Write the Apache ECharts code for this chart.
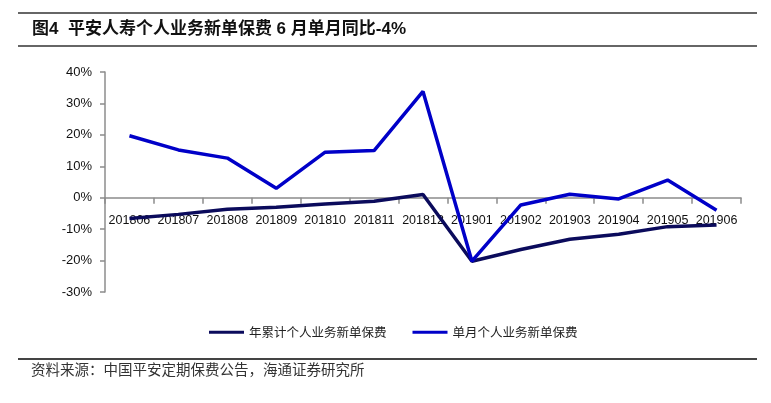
<!DOCTYPE html>
<html><head><meta charset="utf-8">
<script src="https://cdn.jsdelivr.net/npm/echarts@6/dist/echarts.min.js"></script>
<style>html,body{margin:0;padding:0;background:#fff}#c{width:771px;height:403px}</style>
</head><body><div id="c"></div>
<script>
var categories = ['201806','201807','201808','201809','201810','201811','201812','201901','201902','201903','201904','201905','201906'];
var cumulative = [-6.6, -5.3, -3.7, -3.0, -2.0, -1.1, 1.0, -20.2, -16.5, -13.2, -11.6, -9.2, -8.7];
var monthly = [19.7, 15.2, 12.6, 3.0, 14.5, 15.0, 33.8, -20.2, -2.3, 1.1, -0.4, 5.6, -4.0];
var seriesNames = ['年累计个人业务新单保费', '单月个人业务新单保费'];
var titleText = '图4  平安人寿个人业务新单保费 6 月单月同比-4%';
var sourceText = '资料来源：中国平安定期保费公告，海通证券研究所';
var yMin = -30, yMax = 40;

var gridTop = 72, gridBottom = 111, H = 403;
var plotH = H - gridTop - gridBottom;
var zeroOffset = -plotH * (0 - yMin) / (yMax - yMin);

var chart = echarts.init(document.getElementById('c'));
var cjk = '"Liberation Sans", "Noto Sans CJK SC", sans-serif';
chart.setOption({
  animation: false,
  backgroundColor: '#fff',
  textStyle: {fontFamily: cjk},
  grid: {left: 105, right: 30, top: gridTop, bottom: gridBottom, containLabel: false},
  legend: {
    left: 204, top: 321, itemWidth: 35, itemHeight: 3, itemGap: 26, icon: 'rect',
    textStyle: {fontSize: 12.5, color: '#222', fontFamily: '"Noto Sans CJK SC", sans-serif'},
    data: seriesNames
  },
  xAxis: {
    type: 'category', data: categories, offset: zeroOffset,
    axisLine: {onZero: false, lineStyle: {color: '#8c8c8c', width: 1.5}},
    axisTick: {show: true, inside: false, length: 6, lineStyle: {color: '#8c8c8c', width: 1.5}},
    axisLabel: {margin: 16, fontSize: 12.5, color: '#111', interval: 0, fontFamily: '"Liberation Sans", sans-serif'},
    z: 1
  },
  yAxis: {
    type: 'value', min: yMin, max: yMax, interval: 10,
    axisLine: {show: true, lineStyle: {color: '#8c8c8c', width: 1.5}},
    axisTick: {show: true, length: 5, lineStyle: {color: '#8c8c8c', width: 1.5}},
    splitLine: {show: false},
    axisLabel: {formatter: '{value}%', margin: 13, fontSize: 13, color: '#111', fontFamily: '"Liberation Sans", sans-serif'}
  },
  series: [
    {name: seriesNames[0], type: 'line', data: cumulative, symbol: 'none', z: 3,
     lineStyle: {color: '#0b0b5c', width: 3.5}, itemStyle: {color: '#0b0b5c'}},
    {name: seriesNames[1], type: 'line', data: monthly, symbol: 'none', z: 3,
     lineStyle: {color: '#0000c8', width: 3.5}, itemStyle: {color: '#0000c8'}}
  ],
  graphic: [
    {type: 'line', shape: {x1: 18, y1: 13, x2: 757, y2: 13}, style: {stroke: '#666', lineWidth: 2}},
    {type: 'line', shape: {x1: 18, y1: 46, x2: 757, y2: 46}, style: {stroke: '#666', lineWidth: 2}},
    {type: 'text', left: 32, top: 21, style: {text: titleText, fill: '#111', font: 'bold 17px "Liberation Sans", "Noto Sans CJK SC", sans-serif'}},
    {type: 'line', shape: {x1: 18, y1: 359, x2: 757, y2: 359}, style: {stroke: '#444', lineWidth: 2}},
    {type: 'text', left: 31, top: 362, style: {text: sourceText, fill: '#333', font: '14.5px "Noto Sans CJK SC", sans-serif'}}
  ]
});
</script>
</body></html>
